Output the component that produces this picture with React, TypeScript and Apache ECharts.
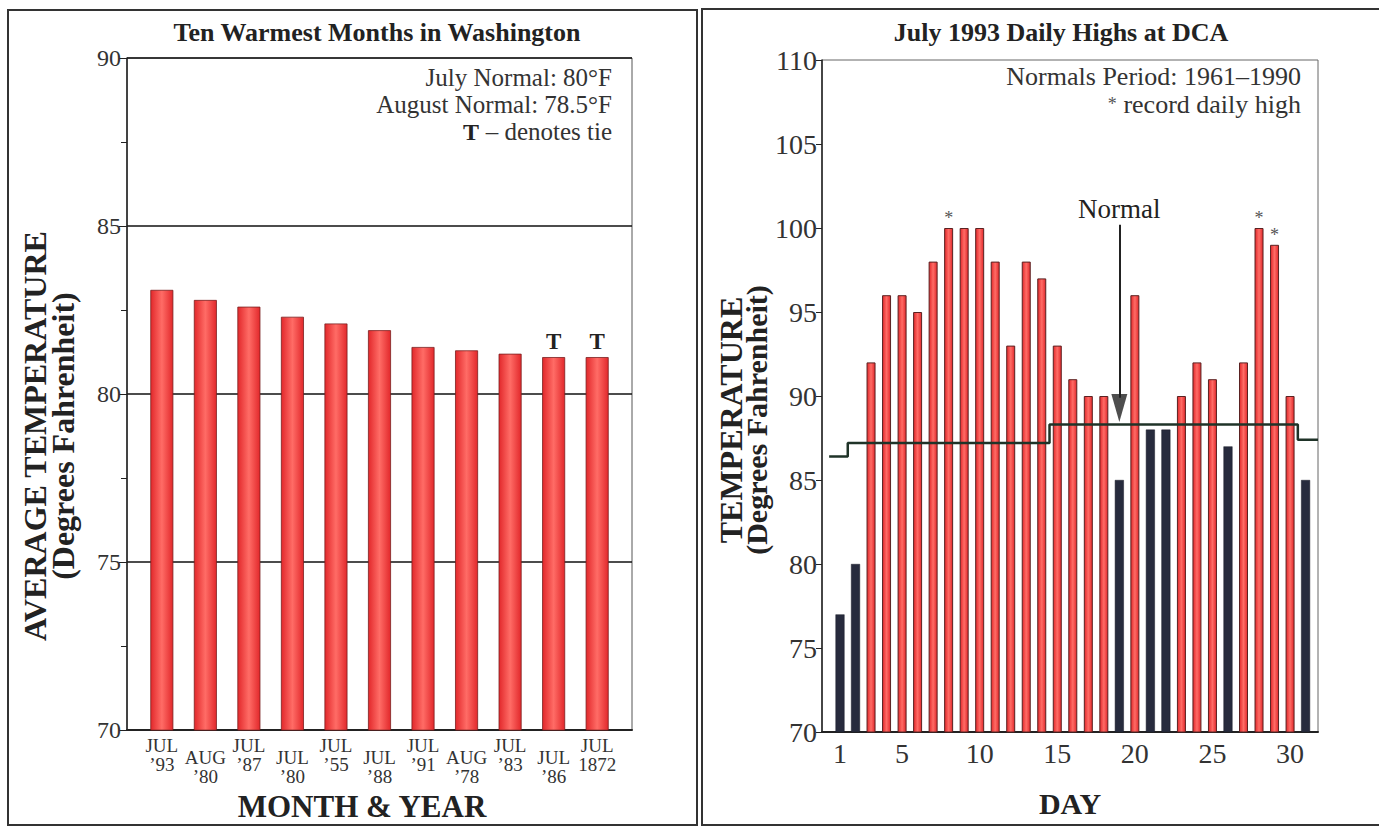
import React, { useEffect, useRef } from "react";
import * as echarts from "echarts";

// ---------- Left chart data ----------
const monthNames = ["JUL", "AUG", "JUL", "JUL", "JUL", "JUL", "JUL", "AUG", "JUL", "JUL", "JUL"];
const yearNames = ["’93", "’80", "’87", "’80", "’55", "’88", "’91", "’78", "’83", "’86", "1872"];
const avgTemps = [83.1, 82.8, 82.6, 82.3, 82.1, 81.9, 81.4, 81.3, 81.2, 81.1, 81.1];
const tiedFlags = [false, false, false, false, false, false, false, false, false, true, true];

// ---------- Right chart data ----------
const days = [1, 2, 3, 4, 5, 6, 7, 8, 9, 10, 11, 12, 13, 14, 15, 16, 17, 18, 19, 20, 21, 22, 23, 24, 25, 26, 27, 28, 29, 30, 31];
const dailyHighs = [77, 80, 92, 96, 96, 95, 98, 100, 100, 100, 98, 93, 98, 97, 93, 91, 90, 90, 85, 96, 88, 88, 90, 92, 91, 87, 92, 100, 99, 90, 85];
const dailyNormals = [
  86.4, 87.2, 87.2, 87.2, 87.2, 87.2, 87.2, 87.2, 87.2, 87.2, 87.2, 87.2, 87.2, 87.2,
  88.3, 88.3, 88.3, 88.3, 88.3, 88.3, 88.3, 88.3, 88.3, 88.3, 88.3, 88.3, 88.3, 88.3, 88.3, 88.3,
  87.4,
];
const recordDays = [8, 28, 29];
const dayTickLabels = [1, 5, 10, 15, 20, 25, 30];
const normalArrowDay = 19;
const normalArrowTop = 100.2;
const normalArrowShaftEnd = 89.9;
const normalArrowTip = 88.45;

const FONT = '"Liberation Serif", "Times New Roman", serif';

const redGrad = () =>
  new echarts.graphic.LinearGradient(0, 0, 1, 0, [
    { offset: 0, color: "#e2282b" },
    { offset: 0.5, color: "#ff6c66" },
    { offset: 1, color: "#e2282b" },
  ]);

export default function App() {
  const ref = useRef<HTMLDivElement>(null);

  useEffect(() => {
    if (!ref.current) return;
    const chart = echarts.init(ref.current, null, { renderer: "svg" });

    const xMinRight = -0.16;
    const xMaxRight = 31.8;

    const normalLineData: number[][] = [
      [days[0] - 0.7, dailyNormals[0]],
      ...days.map((d, i) => [d, dailyNormals[i]]),
      [xMaxRight, dailyNormals[dailyNormals.length - 1]],
    ];

    const option: any = {
      animation: false,
      backgroundColor: "#ffffff",
      textStyle: { fontFamily: FONT },
      grid: [
        { left: 127, top: 58, width: 505, height: 674, show: true, borderColor: "#555", borderWidth: 1 },
        { left: 822, top: 60, width: 496, height: 672, show: true, borderColor: "#666", borderWidth: 1 },
      ],
      xAxis: [
        {
          gridIndex: 0,
          type: "value",
          min: -0.8,
          max: 10.8,
          axisLine: { show: true, onZero: false, lineStyle: { color: "#222", width: 2 } },
          axisTick: { show: false },
          splitLine: { show: false },
          axisLabel: {
            customValues: monthNames.map((_, i) => i),
            margin: 6,
            formatter: (v: number) => {
              const i = Math.round(v);
              return i % 2 === 0
                ? `{t|${monthNames[i]}}\n{t|${yearNames[i]}}`
                : `{p| }\n{t|${monthNames[i]}}\n{t|${yearNames[i]}}`;
            },
            rich: {
              t: { fontFamily: FONT, fontSize: 19, lineHeight: 19, color: "#333" },
              p: { fontSize: 4, lineHeight: 12 },
            },
          },
          name: "MONTH & YEAR",
          nameLocation: "middle",
          nameGap: 60,
          nameTextStyle: { fontFamily: FONT, fontSize: 31, fontWeight: "bold", color: "#222", padding: [0, 35, 0, 0] },
        },
        {
          gridIndex: 1,
          type: "value",
          min: xMinRight,
          max: xMaxRight,
          axisLine: { show: true, onZero: false, lineStyle: { color: "#222", width: 2 } },
          axisTick: { show: false },
          splitLine: { show: false },
          axisLabel: {
            customValues: dayTickLabels,
            margin: 7,
            fontFamily: FONT,
            fontSize: 28,
            color: "#333",
          },
          name: "DAY",
          nameLocation: "middle",
          nameGap: 56,
          nameTextStyle: { fontFamily: FONT, fontSize: 30, fontWeight: "bold", color: "#222" },
        },
      ],
      yAxis: [
        {
          gridIndex: 0,
          type: "value",
          min: 70,
          max: 90,
          interval: 5,
          axisLine: { show: true, onZero: false, lineStyle: { color: "#222", width: 1.5 } },
          axisTick: { show: true, length: 8, lineStyle: { color: "#222" } },
          minorTick: { show: true, splitNumber: 2, length: 6, lineStyle: { color: "#222" } },
          splitLine: { show: true, lineStyle: { color: "#111", width: 1.5 } },
          axisLabel: { fontFamily: FONT, fontSize: 24, color: "#333", margin: 6 },
          name: "{a|AVERAGE TEMPERATURE}\n{b|(Degrees Fahrenheit)}",
          nameLocation: "middle",
          nameRotate: 90,
          nameGap: 50,
          nameTextStyle: {
            padding: [0, 84, 0, 0],
            rich: {
              a: { fontFamily: FONT, fontSize: 32, fontWeight: "bold", color: "#222", lineHeight: 28 },
              b: { fontFamily: FONT, fontSize: 32, fontWeight: "bold", color: "#222", lineHeight: 28 },
            },
          },
        },
        {
          gridIndex: 1,
          type: "value",
          min: 70,
          max: 110,
          interval: 5,
          axisLine: { show: true, onZero: false, lineStyle: { color: "#222", width: 1.5 } },
          axisTick: { show: true, length: 6, lineStyle: { color: "#222" } },
          splitLine: { show: false },
          axisLabel: { fontFamily: FONT, fontSize: 28, color: "#333", margin: 5 },
          name: "{a|TEMPERATURE}\n{b|(Degrees Fahrenheit)}",
          nameLocation: "middle",
          nameRotate: 90,
          nameGap: 52,
          nameTextStyle: {
            padding: [0, 48, 0, 0],
            rich: {
              a: { fontFamily: FONT, fontSize: 32, fontWeight: "bold", color: "#222", lineHeight: 25 },
              b: { fontFamily: FONT, fontSize: 30, fontWeight: "bold", color: "#222", lineHeight: 25 },
            },
          },
        },
      ],
      series: [
        {
          type: "bar",
          xAxisIndex: 0,
          yAxisIndex: 0,
          barWidth: 23,
          data: avgTemps.map((v, i) => [i, v]),
          itemStyle: { color: redGrad(), borderColor: "#7a1f1f", borderWidth: 0.8 },
          label: {
            show: true,
            position: "top",
            distance: 4,
            formatter: (p: any) => (tiedFlags[p.dataIndex] ? "T" : ""),
            fontFamily: FONT,
            fontWeight: "bold",
            fontSize: 23,
            color: "#222",
          },
        },
        {
          type: "bar",
          xAxisIndex: 1,
          yAxisIndex: 1,
          barWidth: 9,
          data: days.map((d, i) => ({
            value: [d, dailyHighs[i]],
            itemStyle:
              dailyHighs[i] > dailyNormals[i]
                ? { color: redGrad(), borderColor: "#5a2222", borderWidth: 1 }
                : { color: "#272b3d", borderColor: "#1a1c28", borderWidth: 0.5 },
          })),
          label: {
            show: true,
            position: "top",
            distance: 1,
            formatter: (p: any) => (recordDays.includes(days[p.dataIndex]) ? "*" : ""),
            fontFamily: FONT,
            fontSize: 18,
            color: "#555",
          },
        },
        {
          type: "line",
          xAxisIndex: 1,
          yAxisIndex: 1,
          step: "middle",
          symbol: "none",
          data: normalLineData,
          lineStyle: { color: "#1f3328", width: 2.5 },
          z: 5,
          markLine: {
            silent: true,
            symbol: ["none", "none"],
            lineStyle: { color: "#222", width: 2, type: "solid" },
            label: {
              show: true,
              position: "start",
              formatter: "Normal",
              fontFamily: FONT,
              fontSize: 27,
              color: "#222",
              distance: 2,
            },
            data: [
              [
                { coord: [normalArrowDay, normalArrowTop] },
                { coord: [normalArrowDay, normalArrowShaftEnd] },
              ],
            ],
          },
        },
        {
          type: "scatter",
          xAxisIndex: 1,
          yAxisIndex: 1,
          symbol: "path://M0,0L16,0L8,28Z",
          symbolSize: [16, 28],
          symbolOffset: [0, "-50%"],
          data: [[normalArrowDay, normalArrowTip]],
          itemStyle: { color: "#222" },
          z: 6,
        },
      ],
      graphic: [
        {
          type: "rect",
          shape: { x: 8, y: 10, width: 689, height: 815 },
          style: { fill: "none", stroke: "#333", lineWidth: 2 },
          silent: true,
        },
        {
          type: "rect",
          shape: { x: 702, y: 9, width: 700, height: 816 },
          style: { fill: "none", stroke: "#333", lineWidth: 2 },
          silent: true,
        },
        {
          type: "text",
          x: 377,
          y: 32,
          style: {
            text: "Ten Warmest Months in Washington",
            align: "center",
            verticalAlign: "middle",
            fontFamily: FONT,
            fontSize: 26,
            fontWeight: "bold",
            fill: "#222",
          },
        },
        {
          type: "text",
          x: 1061,
          y: 32,
          style: {
            text: "July 1993 Daily Highs at DCA",
            align: "center",
            verticalAlign: "middle",
            fontFamily: FONT,
            fontSize: 26,
            fontWeight: "bold",
            fill: "#222",
          },
        },
        {
          type: "text",
          x: 612,
          y: 64,
          style: {
            text: "{r|July Normal: 80°F}\n{r|August Normal: 78.5°F}\n{b|T}  {r|– denotes tie}",
            align: "right",
            verticalAlign: "top",
            rich: {
              r: { fontFamily: FONT, fontSize: 25, lineHeight: 27, fill: "#333", align: "right" },
              b: { fontFamily: FONT, fontSize: 24, lineHeight: 27, fontWeight: "bold", fill: "#222", align: "right" },
            },
          },
        },
        {
          type: "text",
          x: 1301,
          y: 62,
          style: {
            text: "{r|Normals Period: 1961–1990}\n{s|*}  {r|record daily high}",
            align: "right",
            verticalAlign: "top",
            rich: {
              r: { fontFamily: FONT, fontSize: 26, lineHeight: 28, fill: "#333", align: "right" },
              s: { fontFamily: FONT, fontSize: 18, lineHeight: 28, fill: "#555", align: "right" },
            },
          },
        },
      ],
    };

    chart.setOption(option);
    return () => chart.dispose();
  }, []);

  return (
    <div
      ref={ref}
      style={{ position: "fixed", left: 0, top: 0, width: 1379, height: 827, background: "#fff" }}
    />
  );
}
